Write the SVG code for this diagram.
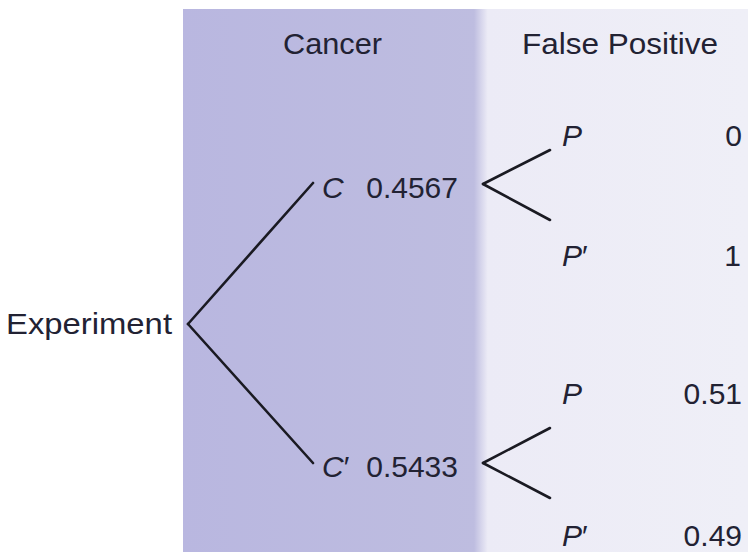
<svg xmlns="http://www.w3.org/2000/svg" width="748" height="552" viewBox="0 0 748 552">
<defs>
<linearGradient id="g1" x1="0" y1="0" x2="1" y2="0">
<stop offset="0" stop-color="#b9b7e0"/>
<stop offset="1" stop-color="#bebde0"/>
</linearGradient>
<linearGradient id="g2" x1="0" y1="0" x2="1" y2="0">
<stop offset="0" stop-color="#bebde0"/>
<stop offset="0.05" stop-color="#ecebf6"/>
<stop offset="1" stop-color="#efeff7"/>
</linearGradient>
</defs>
<style>
text{font-family:"Liberation Sans",Arial,sans-serif;font-size:30px;fill:#222233}
.i{font-style:italic}
.c line{stroke:#1a1a22;stroke-width:2.6;stroke-linecap:round}
</style>
<rect x="0" y="0" width="748" height="552" fill="#ffffff"/>
<rect x="183" y="9" width="297" height="543" fill="url(#g1)"/>
<rect x="474" y="9" width="274" height="543" fill="url(#g2)"/>
<g id="headers">
<text x="283" y="54" textLength="99" lengthAdjust="spacingAndGlyphs">Cancer</text>
<text x="522" y="54" textLength="196" lengthAdjust="spacingAndGlyphs">False Positive</text>
</g>
<g class="c" id="connectors">
<line x1="188" y1="324" x2="313" y2="183"/>
<line x1="188" y1="324" x2="313" y2="463"/>
<line x1="483" y1="184" x2="550" y2="150"/>
<line x1="483" y1="184" x2="550" y2="220"/>
<line x1="483" y1="463" x2="550" y2="428"/>
<line x1="483" y1="463" x2="550" y2="498"/>
</g>
<g id="experiment"><text x="6" y="334" textLength="166" lengthAdjust="spacingAndGlyphs">Experiment</text></g>
<g id="C"><text x="322" y="198"><tspan class="i">C</tspan></text><text x="458" y="198" text-anchor="end">0.4567</text></g>
<g id="Cp"><text x="322" y="477"><tspan class="i">C</tspan>′</text><text x="458" y="477" text-anchor="end">0.5433</text></g>
<g id="P1"><text x="562" y="146" class="i">P</text><text x="742" y="146" text-anchor="end">0</text></g>
<g id="Pp1"><text x="562" y="266"><tspan class="i">P</tspan>′</text><text x="741" y="266" text-anchor="end">1</text></g>
<g id="P2"><text x="562" y="404" class="i">P</text><text x="742" y="404" text-anchor="end">0.51</text></g>
<g id="Pp2"><text x="562" y="546"><tspan class="i">P</tspan>′</text><text x="742" y="546" text-anchor="end">0.49</text></g>
</svg>
